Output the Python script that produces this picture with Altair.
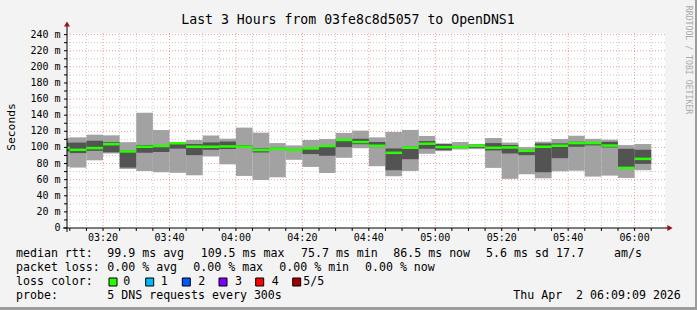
import altair as alt
import pandas as pd

# ---------------- data ----------------
bin_start = ["03:05", "03:10", "03:15", "03:20", "03:25", "03:30", "03:35", "03:40",
             "03:45", "03:50", "03:55", "04:00", "04:05", "04:10", "04:15", "04:20",
             "04:25", "04:30", "04:35", "04:40", "04:45", "04:50", "04:55", "05:00",
             "05:05", "05:10", "05:15", "05:20", "05:25", "05:30", "05:35", "05:40",
             "05:45", "05:50", "05:55", "06:00"]
ping_min = [76, 75, 84, 92.5, 73.3, 70.8, 69.2, 68.5, 65.4, 88.8, 79, 64.6,
            59.6, 62.9, 84.6, 75.8, 68.3, 87.1, 99, 76.7, 64.2, 70.8, 92.1, 95.4,
            97.5, 97.9, 74.6, 61, 66.7, 61.7, 70.4, 71.2, 63.8, 65, 62.1, 71.7]
ping_low = [95, 93, 95.8, 94, 75, 93.3, 94.2, 98.5, 90.4, 97, 98, 99.6,
            93.75, 97, 96, 91.7, 89.6, 100.4, 104, 100.4, 71.7, 85.4, 98.3, 96.7,
            100, 99.6, 96.25, 92.5, 90.4, 69.2, 86.7, 100.8, 102.5, 100, 73.75, 79.6]
ping_median = [99.5, 97, 99.2, 104, 95, 100.8, 101.7, 105.2, 100.8, 100.8, 101.2, 100.8,
               96.7, 98.3, 96.7, 98.75, 101.7, 109.2, 106.7, 102.1, 93.3, 99.6, 104.6, 100.4,
               100.4, 102.1, 99.6, 100, 95.8, 100.8, 102.1, 105.4, 105.4, 102.3, 74.6, 85.8]
ping_high = [106, 106, 108.3, 106.5, 96.5, 102.9, 102.9, 105.8, 104.2, 106.2, 107.3, 102.5,
             98.75, 99.6, 98, 99.5, 102.9, 110.4, 110.8, 106.7, 98.75, 100.8, 107.9, 104.2,
             101, 103.3, 105.4, 103, 97, 105, 105, 107, 106.5, 106.9, 98.3, 97.1]
ping_max = [112, 112.5, 115.8, 115, 106.5, 142.9, 121.7, 106, 109.2, 114.8, 110.8, 124.6,
            118.3, 105.4, 102.5, 109.2, 110.4, 117.9, 120.8, 112.5, 119.2, 121.7, 114.2, 105,
            106.7, 104.2, 111.7, 106, 100.4, 107.1, 110.4, 114.6, 110.6, 109.6, 102.9, 104.2]

x_start, x_end = "03:09:09", "06:09:09"
y_ticks_major = [0, 20, 40, 60, 80, 100, 120, 140, 160, 180, 200, 220, 240]
y_tick_labels = ["0", "20 m", "40 m", "60 m", "80 m", "100 m", "120 m", "140 m",
                 "160 m", "180 m", "200 m", "220 m", "240 m"]
y_ticks_minor = [10, 30, 50, 70, 90, 110, 130, 150, 170, 190, 210, 230]
x_ticks_major = ["03:20", "03:40", "04:00", "04:20", "04:40", "05:00", "05:20", "05:40", "06:00"]
x_ticks_minor = ["03:10", "03:15", "03:25", "03:30", "03:35", "03:45", "03:50", "03:55",
                 "04:05", "04:10", "04:15", "04:25", "04:30", "04:35", "04:45", "04:50",
                 "04:55", "05:05", "05:10", "05:15", "05:25", "05:30", "05:35", "05:45",
                 "05:50", "05:55", "06:05"]

title_text = "Last 3 Hours from 03fe8c8d5057 to OpenDNS1"
legend_items = [
    ("median rtt:", 16, 254), ("99.9 ms avg", 107.3, 254), ("109.5 ms max", 200.7, 254),
    ("75.7 ms min", 301, 254), ("86.5 ms now", 393.3, 254), ("5.6 ms sd", 486, 254),
    ("17.7", 556, 254), ("am/s", 614, 254),
    ("packet loss:", 16, 268), ("0.00 % avg", 107.3, 268), ("0.00 % max", 193.3, 268),
    ("0.00 % min", 279.3, 268), ("0.00 % now", 365, 268),
    ("loss color:", 16, 282),
    ("probe:", 16, 296), ("5 DNS requests every 300s", 107.3, 296),
    ("Thu Apr  2 06:09:09 2026", 513.3, 296),
]
loss_labels = ["0", "1", "2", "3", "4", "5/5"]
loss_colors = ["#26ff00", "#00b8ff", "#0059ff", "#7e00ff", "#ff0000", "#a00000"]
loss_box_x = [109, 145.7, 182.3, 219, 255.7, 292.7]
loss_label_x = [123.3, 160.7, 198.3, 235, 271.7, 303.3]


def to_min(s):
    parts = [int(p) for p in s.split(":")]
    v = parts[0] * 60 + parts[1]
    if len(parts) > 2:
        v += parts[2] / 60.0
    return v


df = pd.DataFrame({
    "t0": [to_min(s) for s in bin_start],
    "p1": ping_min, "p2": ping_low, "p3": ping_median, "p4": ping_high, "p5": ping_max,
})
df["t1"] = df["t0"] + 5

XMIN, XMAX = to_min(x_start), to_min(x_end)
OX, OY = 67, 33          # plot origin in page pixels
W, H = 598, 195

xs = alt.Scale(domain=[XMIN, XMAX], zero=False, nice=False)
ys = alt.Scale(domain=[0, 242], zero=True, nice=False)

MONO = "DejaVu Sans Mono"
one = alt.Data(values=[{"a": 1}])


def px(x):
    return alt.value(x - OX)


def py(y):
    return alt.value(y - OY)


def vgrid(vals, color):
    d = pd.DataFrame({"v": [to_min(s) for s in vals]})
    return alt.Chart(d).mark_rule(color=color, strokeWidth=1, strokeDash=[1, 2]).encode(
        x=alt.X("v:Q", scale=xs, axis=None))


def hgrid(vals, color):
    d = pd.DataFrame({"v": vals})
    return alt.Chart(d).mark_rule(color=color, strokeWidth=1, strokeDash=[1, 2]).encode(
        y=alt.Y("v:Q", scale=ys, axis=None))


grid = [
    vgrid(x_ticks_minor, "#c8c8c8"),
    hgrid(y_ticks_minor, "#c8c8c8"),
    vgrid(x_ticks_major, "#f09a9a"),
    hgrid(y_ticks_major[1:], "#f09a9a"),
]

base = alt.Chart(df)
smoke_light = base.mark_rect(color="#a2a2a2", clip=True).encode(
    x=alt.X("t0:Q", scale=xs, axis=None), x2="t1:Q",
    y=alt.Y("p1:Q", scale=ys, axis=None), y2="p5:Q")
smoke_dark = base.mark_rect(color="#535353", clip=True).encode(
    x=alt.X("t0:Q", scale=xs, axis=None), x2="t1:Q",
    y=alt.Y("p2:Q", scale=ys, axis=None), y2="p4:Q")
median = base.mark_rule(color=loss_colors[0], strokeWidth=2.5, clip=True).encode(
    x=alt.X("t0:Q", scale=xs, axis=None), x2="t1:Q",
    y=alt.Y("p3:Q", scale=ys, axis=None))

# ---- axes drawn from the tick lists through the scales ----
yt_df = pd.DataFrame({"v": y_ticks_major, "lab": y_tick_labels})
yall_df = pd.DataFrame({"v": sorted(y_ticks_major + y_ticks_minor)})
xt_df = pd.DataFrame({"v": [to_min(s) for s in x_ticks_major], "lab": x_ticks_major})
xall_df = pd.DataFrame({"v": sorted(to_min(s) for s in x_ticks_major + x_ticks_minor)})

axes = [
    alt.Chart(yt_df).mark_text(font=MONO, fontSize=10, align="right", baseline="middle",
                               color="#000000").encode(
        x=px(60.5), y=alt.Y("v:Q", scale=ys, axis=None), text="lab:N"),
    alt.Chart(yall_df).mark_rule(color="#000000").encode(
        x=px(64), x2=px(67), y=alt.Y("v:Q", scale=ys, axis=None)),
    alt.Chart(xt_df).mark_text(font=MONO, fontSize=10, align="center", baseline="middle",
                               color="#000000").encode(
        x=alt.X("v:Q", scale=xs, axis=None), y=py(237.5), text="lab:N"),
    alt.Chart(xall_df).mark_rule(color="#000000").encode(
        x=alt.X("v:Q", scale=xs, axis=None), y=py(228), y2=py(231)),
]


def text(s, x, y, size=11.6, align="left", angle=0, color="#000000"):
    return alt.Chart(one).mark_text(
        text=s.replace(" ", "\u00a0"), font=MONO, fontSize=size, align=align,
        baseline="middle", angle=angle, color=color,
    ).encode(x=px(x), y=py(y))


deco = []
# axis lines and arrows
deco.append(alt.Chart(one).mark_rule(color="#000000", strokeWidth=1).encode(
    x=px(67), y=py(24), y2=py(232)))
deco.append(alt.Chart(one).mark_rule(color="#000000", strokeWidth=1).encode(
    x=px(63), x2=px(668), y=py(228)))
deco.append(alt.Chart(one).mark_point(shape="triangle-up", filled=True, size=36,
                                      color="#9b1010", opacity=1).encode(x=px(67), y=py(24)))
deco.append(alt.Chart(one).mark_point(shape="triangle-right", filled=True, size=36,
                                      color="#9b1010", opacity=1).encode(x=px(670), y=py(228)))
# frame shading
deco.append(alt.Chart(one).mark_rule(color="#9c9c9c", strokeWidth=2).encode(
    x=px(696), y=py(0), y2=py(310)))
deco.append(alt.Chart(one).mark_rule(color="#9c9c9c", strokeWidth=3).encode(
    x=px(0), x2=px(697), y=py(308.5)))

# texts
deco.append(text(title_text, 348, 20, size=13.2, align="center"))
deco.append(text("Seconds", 12, 127, size=11.3, align="center", angle=270))
deco.append(text("RRDTOOL / TOBI OETIKER", 688, 60, size=8.2, align="center",
                 angle=90, color="#aaaaaa"))
for s, x, y in legend_items:
    deco.append(text(s, x, y))
for lab, col, bx, lx in zip(loss_labels, loss_colors, loss_box_x, loss_label_x):
    deco.append(alt.Chart(one).mark_rect(color=col, stroke="#000000", strokeWidth=1).encode(
        x=px(bx), x2=px(bx + 8), y=py(278), y2=py(286)))
    deco.append(text(lab, lx, 282))

chart = alt.layer(*grid, smoke_light, smoke_dark, median, *axes, *deco).properties(
    width=W, height=H,
    padding={"left": OX, "top": OY, "right": 697 - OX - W, "bottom": 310 - OY - H},
    autosize=alt.AutoSizeParams(type="none"),
    background="#f3f3f3",
).configure_view(fill="#ffffff", strokeWidth=0)

chart.save("out.html", embed_options={"renderer": "svg", "actions": False})
